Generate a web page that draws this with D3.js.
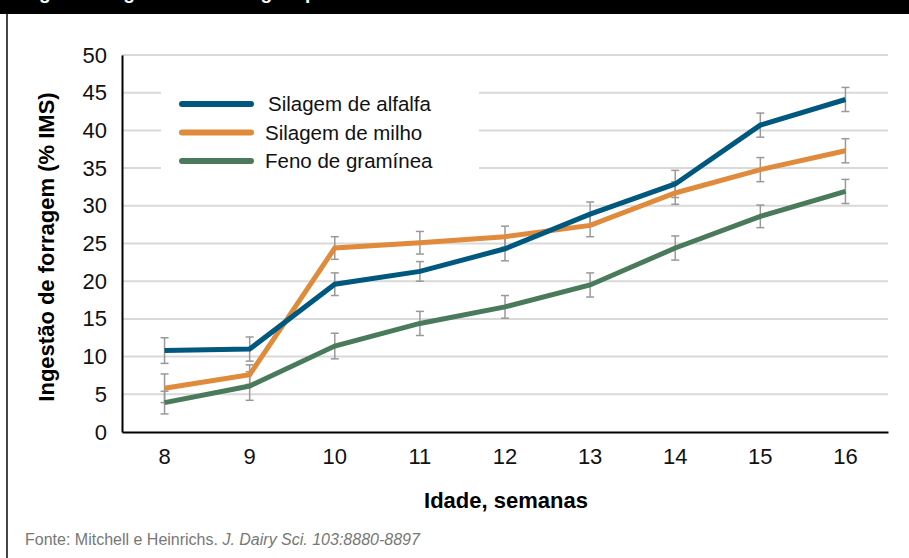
<!DOCTYPE html>
<html>
<head>
<meta charset="utf-8">
<script src="https://cdn.jsdelivr.net/npm/d3@7"></script>
<style>
  body { margin: 0; background: #fff; }
  svg { display: block; font-family: "Liberation Sans", Arial, sans-serif; }
</style>
</head>
<body>
<div class="chart"></div>
<script>
// data
const weeks = [8, 9, 10, 11, 12, 13, 14, 15, 16];
const yTicks = [0, 5, 10, 15, 20, 25, 30, 35, 40, 45, 50];
const seriesNames = ["Silagem de alfalfa", "Silagem de milho", "Feno de gramínea"];
const alfalfa = [10.8, 11.0, 19.6, 21.3, 24.3, 28.9, 32.9, 40.7, 44.1];
const milho   = [5.8, 7.6, 24.4, 25.1, 25.9, 27.4, 31.7, 34.8, 37.3];
const feno    = [3.9, 6.1, 11.4, 14.4, 16.6, 19.5, 24.4, 28.6, 31.9];
const alfalfaErr = [1.7, 1.6, 1.5, 1.3, 1.6, 1.6, 1.8, 1.6, 1.6];
const milhoErr   = [1.9, 1.3, 1.5, 1.5, 1.4, 1.5, 1.5, 1.6, 1.6];
const fenoErr    = [1.5, 1.9, 1.7, 1.6, 1.5, 1.6, 1.6, 1.5, 1.6];
const colors = ["#00587f", "#e08a3c", "#4a7a5c"];

const width = 909, height = 558;
const plotLeft = 122, plotRight = 888, plotTop = 55, plotBottom = 432;

const svg = d3.select(".chart").append("svg")
    .attr("width", width)
    .attr("height", height);

// header bar, title mostly cut off above the top edge (as in the source)
svg.append("rect").attr("x", 0).attr("y", 0).attr("width", width).attr("height", 14).attr("fill", "#000");
svg.append("text")
    .attr("x", 22).attr("y", -1)
    .attr("fill", "#fff")
    .style("font-weight", "bold").style("font-size", "19px")
    .text("Figura 1. Ingestão de forragem por idade");

// left frame line
svg.append("line").attr("x1", 7).attr("x2", 7).attr("y1", 14).attr("y2", height)
    .attr("stroke", "#444").attr("stroke-width", 2);

const x = d3.scaleBand().domain(weeks).range([plotLeft, plotRight]);
const y = d3.scaleLinear().domain([0, 50]).range([plotBottom, plotTop]);
const cx = d => x(d) + x.bandwidth() / 2;

// gridlines
svg.append("g").selectAll("line")
  .data(yTicks.filter(t => t > 0))
  .enter().append("line")
    .attr("x1", plotLeft).attr("x2", plotRight)
    .attr("y1", d => y(d)).attr("y2", d => y(d))
    .attr("stroke", "#d9d9d9").attr("stroke-width", 2);

// y axis
const yAxis = svg.append("g")
    .attr("transform", `translate(${plotLeft},0)`)
    .call(d3.axisLeft(y).tickValues(yTicks).tickSize(0).tickPadding(15));
yAxis.select(".domain").attr("stroke", "#000").attr("stroke-width", 2);
yAxis.selectAll("text").style("font-size", "22px").style("font-family", "Liberation Sans, Arial, sans-serif").attr("fill", "#111");

// x axis
const xAxis = svg.append("g")
    .attr("transform", `translate(0,${plotBottom})`)
    .call(d3.axisBottom(x).tickSize(0).tickPadding(16));
xAxis.select(".domain").attr("stroke", "#000").attr("stroke-width", 2);
xAxis.selectAll("text").style("font-size", "22px").style("font-family", "Liberation Sans, Arial, sans-serif").attr("fill", "#111");

// axis titles
svg.append("text")
    .attr("transform", "translate(54,247) rotate(-90)")
    .attr("text-anchor", "middle")
    .style("font-weight", "bold").style("font-size", "22px")
    .text("Ingestão de forragem (% IMS)");
svg.append("text")
    .attr("x", 506).attr("y", 508)
    .attr("text-anchor", "middle")
    .style("font-weight", "bold").style("font-size", "22px")
    .text("Idade, semanas");

// legend box hides gridlines behind it
svg.append("rect").attr("x", 161).attr("y", 80).attr("width", 318).attr("height", 102).attr("fill", "#fff");

const series = [
  { name: seriesNames[0], values: alfalfa, err: alfalfaErr, color: colors[0] },
  { name: seriesNames[1], values: milho, err: milhoErr, color: colors[1] },
  { name: seriesNames[2], values: feno, err: fenoErr, color: colors[2] }
];

// error bars
const bars = svg.append("g").attr("stroke", "#999").attr("stroke-width", 1.5);
series.forEach(s => {
  weeks.forEach((w, i) => {
    const hi = y(s.values[i] + s.err[i]), lo = y(s.values[i] - s.err[i]);
    bars.append("line").attr("x1", cx(w)).attr("x2", cx(w)).attr("y1", hi).attr("y2", lo);
    bars.append("line").attr("x1", cx(w) - 4).attr("x2", cx(w) + 4).attr("y1", hi).attr("y2", hi);
    bars.append("line").attr("x1", cx(w) - 4).attr("x2", cx(w) + 4).attr("y1", lo).attr("y2", lo);
  });
});

const line = d3.line().x((d, i) => cx(weeks[i])).y(d => y(d));

svg.append("g").selectAll("path")
  .data(series.slice().reverse())
  .enter().append("path")
    .attr("d", d => line(d.values))
    .attr("fill", "none")
    .attr("stroke", d => d.color)
    .attr("stroke-width", 5);

// legend
const legend = svg.append("g").selectAll("g")
  .data(series)
  .enter().append("g")
    .attr("transform", (d, i) => `translate(0,${104 + i * 28.5})`);
legend.append("line")
    .attr("x1", 182).attr("x2", 251)
    .attr("stroke", d => d.color).attr("stroke-width", 6).attr("stroke-linecap", "round");
legend.append("text")
    .attr("x", (d, i) => i === 0 ? 268 : 265).attr("y", 7)
    .style("font-size", "20.5px").attr("fill", "#111")
    .text(d => d.name);

// source
const src = svg.append("text").attr("x", 25).attr("y", 545)
    .style("font-size", "16px").attr("fill", "#777");
src.append("tspan").text("Fonte: Mitchell e Heinrichs. ");
src.append("tspan").style("font-style", "italic").text("J. Dairy Sci. 103:8880-8897");
</script>
</body>
</html>
